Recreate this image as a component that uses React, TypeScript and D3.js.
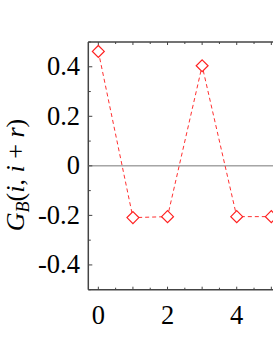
import * as d3 from "d3";
import { useEffect, useRef } from "react";

const xs = [0, 1, 2, 3, 4, 5];
const gb = [0.462, -0.209, -0.205, 0.404, -0.205, -0.205];
const yTicks = [0.4, 0.2, 0, -0.2, -0.4];
const xTicks = [0, 2, 4];

const width = 273;
const height = 353;

const App = () => {
  const ref = useRef<SVGSVGElement | null>(null);

  useEffect(() => {
    if (!ref.current) return;
    const svg = d3.select(ref.current);
    svg.selectAll("*").remove();

    const x = d3.scaleLinear().domain([-0.29, 5.5]).range([88.3, 88.3 + 5.79 * 34.6]);
    const y = d3.scaleLinear().domain([-0.5, 0.5]).range([289.7, 42]);
    const axisColor = "#444";
    const font = "Liberation Serif";

    const g = svg.append("g");

    // frame
    g.append("line")
      .attr("x1", x.range()[0]).attr("x2", x.range()[0])
      .attr("y1", y(0.5)).attr("y2", y(-0.5))
      .attr("stroke", axisColor).attr("stroke-width", 1.5);
    g.append("line")
      .attr("x1", x.range()[0]).attr("x2", x.range()[1])
      .attr("y1", y(0.5)).attr("y2", y(0.5))
      .attr("stroke", axisColor).attr("stroke-width", 1.5);
    g.append("line")
      .attr("x1", x.range()[0]).attr("x2", x.range()[1])
      .attr("y1", y(-0.5)).attr("y2", y(-0.5))
      .attr("stroke", axisColor).attr("stroke-width", 1.5);

    // zero line
    g.append("line")
      .attr("x1", x.range()[0]).attr("x2", x.range()[1])
      .attr("y1", y(0)).attr("y2", y(0))
      .attr("stroke", "#777").attr("stroke-width", 1);

    // y ticks (inward)
    const yMinor = d3.range(-5, 6).map((d) => d / 10);
    g.selectAll(".ytick")
      .data(yMinor)
      .join("line")
      .attr("x1", x.range()[0])
      .attr("x2", (d) => x.range()[0] + (Math.round(d * 10) % 2 === 0 ? 4 : 2.5))
      .attr("y1", (d) => y(d)).attr("y2", (d) => y(d))
      .attr("stroke", axisColor).attr("stroke-width", 1);

    // x ticks top and bottom (inward)
    const xMinor = d3.range(0, 12).map((d) => d / 2);
    g.selectAll(".xtickb")
      .data(xMinor)
      .join("line")
      .attr("x1", (d) => x(d)).attr("x2", (d) => x(d))
      .attr("y1", y(-0.5)).attr("y2", (d) => y(-0.5) - (d % 1 === 0 ? 3 : 2))
      .attr("stroke", axisColor).attr("stroke-width", 1);
    g.selectAll(".xtickt")
      .data(xMinor)
      .join("line")
      .attr("x1", (d) => x(d)).attr("x2", (d) => x(d))
      .attr("y1", y(0.5)).attr("y2", (d) => y(0.5) + (d % 1 === 0 ? 3 : 2))
      .attr("stroke", axisColor).attr("stroke-width", 1);

    // tick labels
    g.selectAll(".ylab")
      .data(yTicks)
      .join("text")
      .attr("x", 80)
      .attr("y", (d) => y(d) + 8.5)
      .attr("text-anchor", "end")
      .style("font-family", font)
      .style("font-size", "26.5px")
      .attr("fill", "#000")
      .text((d) => (d === 0 ? "0" : d < 0 ? "-" + d3.format(".1f")(-d) : d3.format(".1f")(d)));

    g.selectAll(".xlab")
      .data(xTicks)
      .join("text")
      .attr("x", (d) => x(d))
      .attr("y", 324)
      .attr("text-anchor", "middle")
      .style("font-family", font)
      .style("font-size", "26.5px")
      .attr("fill", "#000")
      .text((d) => String(d));

    // y label
    const lab = g.append("text")
      .attr("transform", "translate(24,175) rotate(-90)")
      .attr("text-anchor", "middle")
      .style("font-family", font)
      .style("font-size", "26px")
      .attr("fill", "#000");
    lab.append("tspan").attr("font-style", "italic").text("G");
    lab.append("tspan").attr("font-style", "italic").style("font-size", "18px").attr("dy", 5).text("B");
    lab.append("tspan").attr("dy", -5).text("(");
    lab.append("tspan").attr("font-style", "italic").text("i");
    lab.append("tspan").text(", ");
    lab.append("tspan").attr("font-style", "italic").text("i");
    lab.append("tspan").text(" + ");
    lab.append("tspan").attr("font-style", "italic").text("r");
    lab.append("tspan").text(")");

    const pts = xs.map((d, i) => [d, gb[i]] as [number, number]);
    const line = d3.line<[number, number]>().x((d) => x(d[0])).y((d) => y(d[1]));
    g.append("path")
      .attr("d", line(pts))
      .attr("fill", "none")
      .attr("stroke", "#ff3030")
      .attr("stroke-width", 1)
      .attr("stroke-dasharray", "4,3");

    const sym = d3.symbol().type(d3.symbolDiamond2).size(90);
    g.selectAll(".pt")
      .data(pts)
      .join("path")
      .attr("transform", (d) => `translate(${x(d[0])},${y(d[1])})`)
      .attr("d", sym)
      .attr("fill", "white")
      .attr("stroke", "#ff2020")
      .attr("stroke-width", 1.2);
  }, []);

  return (
    <svg
      ref={ref}
      width={width}
      height={height}
      style={{ position: "absolute", left: 0, top: 0, background: "white" }}
    />
  );
};

export default App;
